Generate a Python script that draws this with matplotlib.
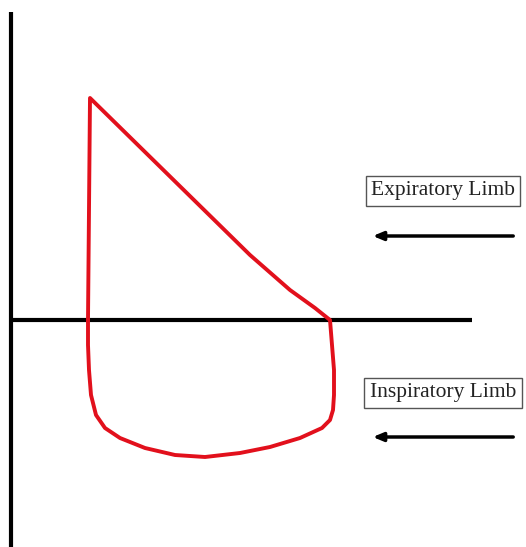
import numpy as np
import matplotlib.pyplot as plt

# flow-volume loop (volume right, flow up)
exp_volume = [77, 79, 239, 279, 304, 319]
exp_flow = [0, 222, 65, 30, 12, 0]

insp_volume = [319, 321, 323, 323, 322, 319, 311, 289, 259, 229, 194,
               164, 134, 109, 94, 85, 80, 78, 77, 77]
insp_flow = [0, -25, -50, -75, -90, -100, -108, -118, -127, -133, -137,
             -135, -128, -118, -108, -95, -75, -50, -25, 0]

labels = ["Expiratory Limb", "Inspiratory Limb"]
label_flow = [129, -73]
arrow_flow = [84, -117]

fig = plt.figure(figsize=(5.26, 5.47), dpi=100)
ax = fig.add_axes([0, 0, 1, 1])
ax.set_xlim(-11, 515)
ax.set_ylim(-227, 320)
ax.axis('off')

# axes of the diagram
ax.vlines(0, -227, 308, color='black', lw=3)
ax.hlines(0, -1, 461, color='black', lw=3)

vol = np.array(exp_volume + insp_volume[1:])
flw = np.array(exp_flow + insp_flow[1:])
ax.plot(vol, flw, color='#e2101c', lw=2.8, solid_joinstyle='round')

for lab, fy, ay in zip(labels, label_flow, arrow_flow):
    ax.text(432, fy, lab, ha='center', va='center', fontsize=15.5,
            family='Liberation Serif', color='#222222',
            bbox=dict(boxstyle='square,pad=0.25', fc='white', ec='#555555', lw=1))
    ax.annotate('', xy=(359, ay), xytext=(505, ay),
                arrowprops=dict(arrowstyle='-|>,head_length=0.6,head_width=0.25',
                                color='black', lw=2.5))

fig.savefig('out.png', dpi=100)
